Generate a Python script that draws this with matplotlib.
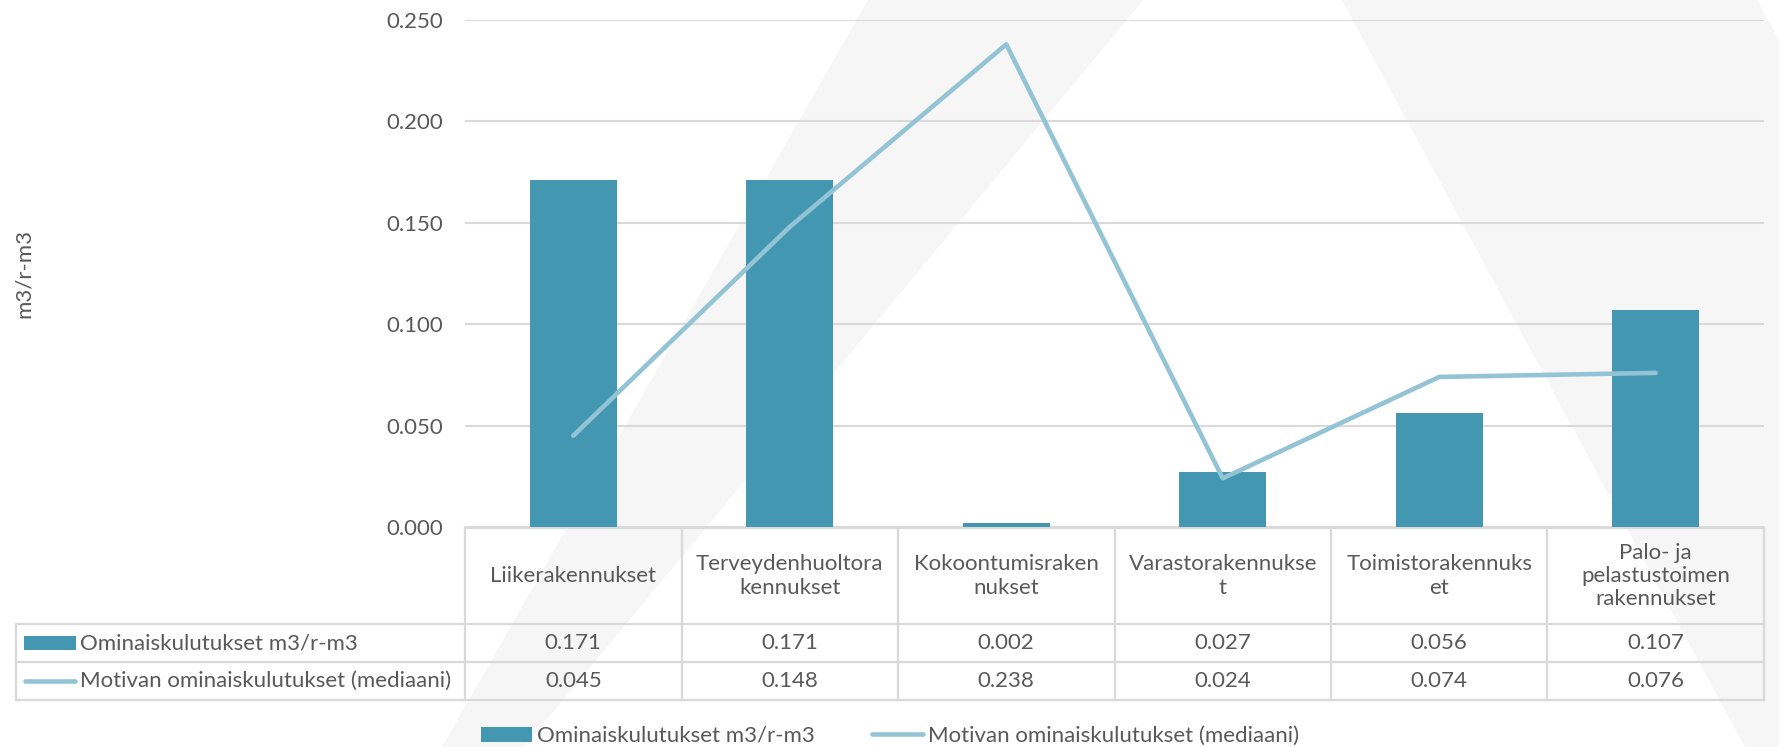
import matplotlib.pyplot as plt
from matplotlib.patches import Polygon, Rectangle
from matplotlib.lines import Line2D
from matplotlib.transforms import blended_transform_factory
import numpy as np

# data
categories = ['Liikerakennukset', 'Terveydenhuoltora\nkennukset', 'Kokoontumisraken\nnukset',
              'Varastorakennukse\nt', 'Toimistorakennuks\net', 'Palo- ja\npelastustoimen\nrakennukset']
ominais = [0.171, 0.171, 0.002, 0.027, 0.056, 0.107]
motiva = [0.045, 0.148, 0.238, 0.024, 0.074, 0.076]
bar_name = 'Ominaiskulutukset m3/r-m3'
line_name = 'Motivan ominaiskulutukset (mediaani)'
yticks = [0.0, 0.05, 0.10, 0.15, 0.20, 0.25]

BAR_C = '#4397B0'
LINE_C = '#93C4D5'
TXT = '#595959'
GRID = '#D9D9D9'

plt.rcParams['font.family'] = ['Lato', 'DejaVu Sans']
plt.rcParams['font.size'] = 16

W, H = 1779, 747
fig = plt.figure(figsize=(W / 100, H / 100), dpi=100)

# background watermark (pixel coords)
bg = fig.add_axes([0, 0, 1, 1], zorder=0)
bg.set_xlim(0, W)
bg.set_ylim(H, 0)
bg.axis('off')
wm = '#F6F6F6'
bg.add_patch(Polygon([(868, 0), (1143, 0), (524, 747), (442, 747)], closed=True, fc=wm, ec='none'))
bg.add_patch(Polygon([(1342, 0), (1757, 0), (1779, 40), (1779, 747), (1745, 747)], closed=True, fc=wm, ec='none'))

# main chart
top_px, bot_px, left_px, right_px = 20, 527, 465, 1764
ax = fig.add_axes([left_px / W, (H - bot_px) / H, (right_px - left_px) / W, (bot_px - top_px) / H], zorder=1)
ax.set_facecolor('none')
x = np.arange(len(categories))
ax.bar(x, ominais, width=0.4, color=BAR_C, zorder=2)
ax.plot(x, motiva, color=LINE_C, lw=3.3, solid_capstyle='round', solid_joinstyle='round', zorder=3)
ax.set_xlim(-0.5, len(categories) - 0.5)
ax.set_ylim(0, 0.25)
ax.set_yticks(yticks)
ax.set_yticklabels([f'{v:.3f}' for v in yticks], color=TXT)
ax.tick_params(axis='y', length=0, pad=16)
ax.set_xticks([])
ax.grid(axis='y', color=GRID, lw=1.5)
ax.set_axisbelow(True)
for s in ax.spines.values():
    s.set_visible(False)

fig.text(24 / W, 1 - 273 / H, 'm3/r-m3', rotation=90, ha='center', va='center', color=TXT)

# data table below the axis
tr = blended_transform_factory(ax.transData, bg.transData)
rows_y = [528, 624, 662, 700]
lk = dict(color=GRID, lw=1.6, transform=tr, clip_on=False, zorder=1)
n = len(categories)
bg.plot([-0.5, n - 0.5], [rows_y[0]] * 2, **lk)
for yy in rows_y[1:]:
    bg.plot([-0.5, n - 0.5], [yy] * 2, **lk)
    bg.plot([16, left_px], [yy] * 2, color=GRID, lw=1.6)
bg.plot([16, 16], [rows_y[1], rows_y[3]], color=GRID, lw=1.6)
for i in range(n + 1):
    bg.plot([i - 0.5] * 2, [rows_y[0], rows_y[3]], **lk)

for i, c in enumerate(categories):
    bg.text(i, (rows_y[0] + rows_y[1]) / 2, c, transform=tr, ha='center', va='center',
            color=TXT, linespacing=1.2)
    bg.text(i, (rows_y[1] + rows_y[2]) / 2, f'{ominais[i]:.3f}', transform=tr,
            ha='center', va='center', color=TXT)
    bg.text(i, (rows_y[2] + rows_y[3]) / 2, f'{motiva[i]:.3f}', transform=tr,
            ha='center', va='center', color=TXT)

# row labels with keys
bg.add_patch(Rectangle((24, 636), 52, 14, fc=BAR_C, ec='none'))
bg.text(80, 643, bar_name, ha='left', va='center', color=TXT)
bg.add_line(Line2D([25, 75], [681, 681], color=LINE_C, lw=3.3, solid_capstyle='round'))
bg.text(80, 681, line_name, ha='left', va='center', color=TXT)

# legend
handles = [Rectangle((0, 0), 1, 1, fc=BAR_C, ec='none'),
           Line2D([0], [0], color=LINE_C, lw=3.3, solid_capstyle='round')]
leg = fig.legend(handles, [bar_name, line_name], loc='center', bbox_to_anchor=(890 / W, 1 - 736 / H),
                 ncol=2, frameon=False, handlelength=2.3, handleheight=0.65, handletextpad=0.2,
                 columnspacing=2.6, borderaxespad=0, borderpad=0)
for t in leg.get_texts():
    t.set_color(TXT)

fig.savefig('out.png', dpi=100)
